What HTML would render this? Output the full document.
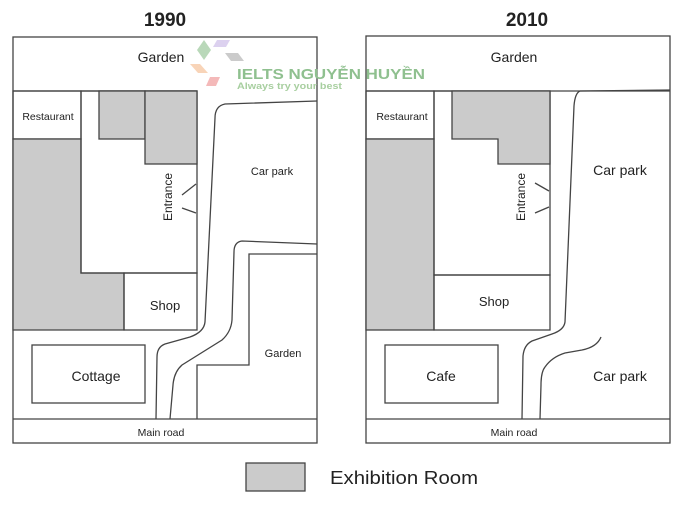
<!DOCTYPE html>
<html><head><meta charset="utf-8"><style>
html,body{margin:0;padding:0;background:#fff;width:685px;height:507px;overflow:hidden}
svg{display:block}
text{font-family:"Liberation Sans",sans-serif;fill:#222}
</style></head><body>
<svg width="685" height="507" viewBox="0 0 685 507" xmlns="http://www.w3.org/2000/svg">
<g stroke="#444" stroke-width="1.3" fill="none">
<!-- LEFT MAP -->
<rect x="13" y="37" width="304" height="406" fill="#fff"/>
<line x1="13" y1="91" x2="197" y2="91"/>
<line x1="13" y1="419" x2="317" y2="419"/>
<rect x="13" y="91" width="68" height="48"/>
<polygon points="13,139 81,139 81,273 124,273 124,330 13,330" fill="#cbcbcb"/>
<rect x="81" y="91" width="116" height="182"/>
<rect x="124" y="273" width="73" height="57"/>
<rect x="99" y="91" width="46" height="48" fill="#cbcbcb"/>
<rect x="145" y="91" width="52" height="73" fill="#cbcbcb"/>
<line x1="182" y1="195" x2="196" y2="184"/>
<line x1="182" y1="208" x2="196" y2="213"/>
<path d="M317,101 L225,104 Q215,106 215,118 L205,322 Q204,332 190,337 L165,344 Q157,347 157,357 L156,419"/>
<path d="M317,244 L242,241 Q234,242 234,252 L232,320 Q231,332 222,340 L182,365 Q174,372 173,385 L170,419"/>
<path d="M317,254 L249,254 L249,365 L197,365 L197,419"/>
<rect x="32" y="345" width="113" height="58"/>
<!-- RIGHT MAP -->
<rect x="366" y="36" width="304" height="407" fill="#fff"/>
<line x1="366" y1="91" x2="670" y2="91"/>
<line x1="366" y1="419" x2="670" y2="419"/>
<rect x="366" y="91" width="68" height="48"/>
<rect x="366" y="139" width="68" height="191" fill="#cbcbcb"/>
<rect x="434" y="91" width="116" height="184"/>
<rect x="434" y="275" width="116" height="55"/>
<polygon points="452,91 550,91 550,164 498,164 498,139 452,139" fill="#cbcbcb"/>
<line x1="535" y1="183" x2="549" y2="191"/>
<line x1="535" y1="213" x2="549" y2="207"/>
<path d="M670,90 L580,91 Q575,93 574,106 L565,322 Q564,330 552,334 L532,341 Q524,345 523,356 L522,419"/>
<path d="M601,337 Q597,347 582,350 L565,353 Q552,357 545,367 Q541,372 541,385 L540,419"/>
<rect x="385" y="345" width="113" height="58"/>
<!-- legend -->
<rect x="246" y="463" width="59" height="28" fill="#cbcbcb"/>
</g>
<!-- titles -->
<text x="165" y="26" font-size="19" font-weight="bold" text-anchor="middle" fill="#111">1990</text>
<text x="527" y="26" font-size="19" font-weight="bold" text-anchor="middle" fill="#111">2010</text>
<!-- left labels -->
<text x="161" y="62" font-size="14" text-anchor="middle">Garden</text>
<text x="48" y="120" font-size="10.5" text-anchor="middle">Restaurant</text>
<text x="272" y="175" font-size="11" text-anchor="middle">Car park</text>
<text x="165" y="310" font-size="13" text-anchor="middle">Shop</text>
<text x="96" y="381" font-size="14" text-anchor="middle">Cottage</text>
<text x="283" y="357" font-size="11" text-anchor="middle">Garden</text>
<text x="161" y="436" font-size="10.5" text-anchor="middle">Main road</text>
<text transform="translate(172,197) rotate(-90)" font-size="12" text-anchor="middle">Entrance</text>
<!-- right labels -->
<text x="514" y="62" font-size="14" text-anchor="middle">Garden</text>
<text x="402" y="120" font-size="10.5" text-anchor="middle">Restaurant</text>
<text x="620" y="175" font-size="14" text-anchor="middle">Car park</text>
<text x="494" y="306" font-size="13" text-anchor="middle">Shop</text>
<text x="441" y="381" font-size="14" text-anchor="middle">Cafe</text>
<text x="620" y="381" font-size="14" text-anchor="middle">Car park</text>
<text x="514" y="436" font-size="10.5" text-anchor="middle">Main road</text>
<text transform="translate(525,197) rotate(-90)" font-size="12" text-anchor="middle">Entrance</text>
<!-- legend text -->
<text x="330" y="484" font-size="18" textLength="148" lengthAdjust="spacingAndGlyphs">Exhibition Room</text>
<!-- watermark -->
<g opacity="0.6">
<polygon points="197,50 204,40 211,50 204,60" fill="#8bbf8b"/>
<polygon points="217,40 230,40 226,47 213,47" fill="#c6b3e6"/>
<polygon points="225,53 238,53 244,61 231,61" fill="#aaa"/>
<polygon points="190,64 200,64 208,73 198,73" fill="#f5b98a"/>
<polygon points="210,77 220,77 216,86 206,86" fill="#ee8c8c"/>
</g>
<text x="237" y="79" font-size="15" font-weight="bold" style="fill:#8fc08f" textLength="188" lengthAdjust="spacingAndGlyphs">IELTS NGUYỄN HUYỀN</text>
<text x="237" y="89" font-size="9" font-weight="bold" style="fill:#a8cfa0" textLength="105" lengthAdjust="spacingAndGlyphs">Always try your best</text>
</svg>
</body></html>
